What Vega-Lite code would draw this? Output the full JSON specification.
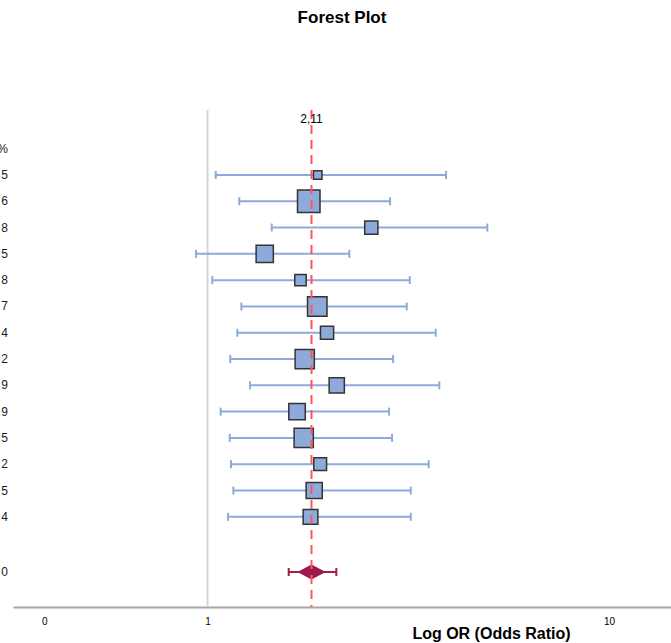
{
  "$schema": "https://vega.github.io/schema/vega-lite/v6.json",
  "width": 658,
  "height": 497,
  "autosize": {"type": "none"},
  "padding": {"left": 13, "top": 110, "right": 0, "bottom": 36},
  "background": "white",
  "title": {"text": "Forest Plot", "font": "Liberation Sans", "fontSize": 17, "fontWeight": "bold", "color": "#000000", "anchor": "middle", "offset": 82},
  "config": {"view": {"stroke": null}},
  "datasets": {
    "studies": [
      {"row": 1, "or": 2.193, "lo": 1.071, "hi": 4.506, "weight": 2.0},
      {"row": 2, "or": 2.074, "lo": 1.289, "hi": 3.341, "weight": 14.0},
      {"row": 3, "or": 3.009, "lo": 1.627, "hi": 5.561, "weight": 4.8},
      {"row": 4, "or": 1.550, "lo": 0.905, "hi": 2.652, "weight": 8.2},
      {"row": 5, "or": 1.968, "lo": 1.041, "hi": 3.720, "weight": 3.6},
      {"row": 6, "or": 2.187, "lo": 1.309, "hi": 3.660, "weight": 10.5},
      {"row": 7, "or": 2.322, "lo": 1.270, "hi": 4.270, "weight": 4.8},
      {"row": 8, "or": 2.022, "lo": 1.203, "hi": 3.397, "weight": 10.2},
      {"row": 9, "or": 2.462, "lo": 1.396, "hi": 4.352, "weight": 6.4},
      {"row": 10, "or": 1.925, "lo": 1.115, "hi": 3.323, "weight": 7.5},
      {"row": 11, "or": 2.009, "lo": 1.198, "hi": 3.378, "weight": 10.2},
      {"row": 12, "or": 2.227, "lo": 1.210, "hi": 4.116, "weight": 4.5},
      {"row": 13, "or": 2.146, "lo": 1.232, "hi": 3.740, "weight": 7.2},
      {"row": 14, "or": 2.097, "lo": 1.182, "hi": 3.740, "weight": 6.0}
    ],
    "pooled": [
      {"row": 16.1, "or": 2.11, "lo": 1.823, "hi": 2.456, "text": "2,11", "textRow": -1.13}
    ],
    "labels": [
      {"row": 0, "label": "%"},
      {"row": 1, "label": "5"},
      {"row": 2, "label": "6"},
      {"row": 3, "label": "8"},
      {"row": 4, "label": "5"},
      {"row": 5, "label": "8"},
      {"row": 6, "label": "7"},
      {"row": 7, "label": "4"},
      {"row": 8, "label": "2"},
      {"row": 9, "label": "9"},
      {"row": 10, "label": "9"},
      {"row": 11, "label": "5"},
      {"row": 12, "label": "2"},
      {"row": 13, "label": "5"},
      {"row": 14, "label": "4"},
      {"row": 16.1, "label": "0"}
    ],
    "nullline": [{"ref": 1}]
  },
  "layer": [
    {
      "data": {"name": "nullline"},
      "mark": {"type": "rule", "color": "#d6d6d6", "strokeWidth": 2},
      "encoding": {
        "x": {
          "field": "ref", "type": "quantitative",
          "scale": {"type": "symlog", "constant": 1, "domain": [-0.1419, 13.31], "nice": false, "zero": false},
          "axis": {
            "values": [0, 1, 10], "format": "d", "ticks": false, "grid": false,
            "domainColor": "#a6a6a6", "domainWidth": 2,
            "labelFont": "Liberation Sans", "labelFontSize": 10, "labelColor": "#000000", "labelPadding": 9,
            "title": "Log OR (Odds Ratio)", "titleFont": "Liberation Sans", "titleFontSize": 16, "titleFontWeight": "bold", "titleColor": "#000000",
            "titleX": 478, "titleY": 26, "titleAlign": "center", "titleBaseline": "middle"
          }
        }
      }
    },
    {
      "data": {"name": "studies"},
      "mark": {"type": "rule", "color": "#8eaadb", "strokeWidth": 2},
      "encoding": {
        "x": {"field": "lo", "type": "quantitative", "scale": {"type": "symlog", "constant": 1, "domain": [-0.1419, 13.31], "nice": false, "zero": false}},
        "x2": {"field": "hi"},
        "y": {"field": "row", "type": "quantitative", "scale": {"domain": [-1.47, 17.43], "reverse": true, "nice": false, "zero": false}, "axis": null}
      }
    },
    {
      "data": {"name": "studies"},
      "mark": {"type": "tick", "color": "#8eaadb", "orient": "vertical", "size": 8, "thickness": 2, "opacity": 1},
      "encoding": {
        "x": {"field": "lo", "type": "quantitative", "scale": {"type": "symlog", "constant": 1, "domain": [-0.1419, 13.31], "nice": false, "zero": false}},
        "y": {"field": "row", "type": "quantitative", "scale": {"domain": [-1.47, 17.43], "reverse": true, "nice": false, "zero": false}, "axis": null}
      }
    },
    {
      "data": {"name": "studies"},
      "mark": {"type": "tick", "color": "#8eaadb", "orient": "vertical", "size": 8, "thickness": 2, "opacity": 1},
      "encoding": {
        "x": {"field": "hi", "type": "quantitative", "scale": {"type": "symlog", "constant": 1, "domain": [-0.1419, 13.31], "nice": false, "zero": false}},
        "y": {"field": "row", "type": "quantitative", "scale": {"domain": [-1.47, 17.43], "reverse": true, "nice": false, "zero": false}, "axis": null}
      }
    },
    {
      "data": {"name": "studies"},
      "mark": {"type": "point", "shape": "square", "filled": true, "fill": "#8eaadb", "stroke": "#333333", "strokeWidth": 1.5, "opacity": 1},
      "encoding": {
        "x": {"field": "or", "type": "quantitative", "scale": {"type": "symlog", "constant": 1, "domain": [-0.1419, 13.31], "nice": false, "zero": false}},
        "y": {"field": "row", "type": "quantitative", "scale": {"domain": [-1.47, 17.43], "reverse": true, "nice": false, "zero": false}, "axis": null},
        "size": {"field": "weight", "type": "quantitative", "scale": {"type": "linear", "domain": [0, 14], "range": [0, 506]}, "legend": null}
      }
    },
    {
      "data": {"name": "pooled"},
      "mark": {"type": "rule", "color": "#a3213b", "strokeWidth": 2},
      "encoding": {
        "x": {"field": "lo", "type": "quantitative", "scale": {"type": "symlog", "constant": 1, "domain": [-0.1419, 13.31], "nice": false, "zero": false}},
        "x2": {"field": "hi"},
        "y": {"field": "row", "type": "quantitative", "scale": {"domain": [-1.47, 17.43], "reverse": true, "nice": false, "zero": false}, "axis": null}
      }
    },
    {
      "data": {"name": "pooled"},
      "mark": {"type": "tick", "color": "#a3213b", "orient": "vertical", "size": 8, "thickness": 2, "opacity": 1},
      "encoding": {
        "x": {"field": "lo", "type": "quantitative", "scale": {"type": "symlog", "constant": 1, "domain": [-0.1419, 13.31], "nice": false, "zero": false}},
        "y": {"field": "row", "type": "quantitative", "scale": {"domain": [-1.47, 17.43], "reverse": true, "nice": false, "zero": false}, "axis": null}
      }
    },
    {
      "data": {"name": "pooled"},
      "mark": {"type": "tick", "color": "#a3213b", "orient": "vertical", "size": 8, "thickness": 2, "opacity": 1},
      "encoding": {
        "x": {"field": "hi", "type": "quantitative", "scale": {"type": "symlog", "constant": 1, "domain": [-0.1419, 13.31], "nice": false, "zero": false}},
        "y": {"field": "row", "type": "quantitative", "scale": {"domain": [-1.47, 17.43], "reverse": true, "nice": false, "zero": false}, "axis": null}
      }
    },
    {
      "data": {"name": "pooled"},
      "mark": {"type": "point", "shape": "M-1,0L0,-0.53L1,0L0,0.53Z", "filled": true, "fill": "#9c1a4b", "strokeWidth": 0, "size": 807, "opacity": 1},
      "encoding": {
        "x": {"field": "or", "type": "quantitative", "scale": {"type": "symlog", "constant": 1, "domain": [-0.1419, 13.31], "nice": false, "zero": false}},
        "y": {"field": "row", "type": "quantitative", "scale": {"domain": [-1.47, 17.43], "reverse": true, "nice": false, "zero": false}, "axis": null}
      }
    },
    {
      "data": {"name": "pooled"},
      "mark": {"type": "rule", "color": "#ff5555", "strokeWidth": 2, "strokeDash": [9, 6]},
      "encoding": {
        "x": {"field": "or", "type": "quantitative", "scale": {"type": "symlog", "constant": 1, "domain": [-0.1419, 13.31], "nice": false, "zero": false}}
      }
    },
    {
      "data": {"name": "pooled"},
      "mark": {"type": "text", "font": "Liberation Sans", "fontSize": 12, "color": "#000000", "align": "center", "baseline": "middle"},
      "encoding": {
        "x": {"field": "or", "type": "quantitative", "scale": {"type": "symlog", "constant": 1, "domain": [-0.1419, 13.31], "nice": false, "zero": false}},
        "y": {"field": "textRow", "type": "quantitative", "scale": {"domain": [-1.47, 17.43], "reverse": true, "nice": false, "zero": false}, "axis": null},
        "text": {"field": "text"}
      }
    },
    {
      "data": {"name": "labels"},
      "mark": {"type": "text", "font": "Liberation Sans", "fontSize": 12, "color": "#1a1a1a", "align": "right", "baseline": "middle", "dx": -5},
      "encoding": {
        "x": {"datum": -0.1419, "type": "quantitative", "scale": {"type": "symlog", "constant": 1, "domain": [-0.1419, 13.31], "nice": false, "zero": false}},
        "y": {"field": "row", "type": "quantitative", "scale": {"domain": [-1.47, 17.43], "reverse": true, "nice": false, "zero": false}, "axis": null},
        "text": {"field": "label"}
      }
    }
  ]
}
